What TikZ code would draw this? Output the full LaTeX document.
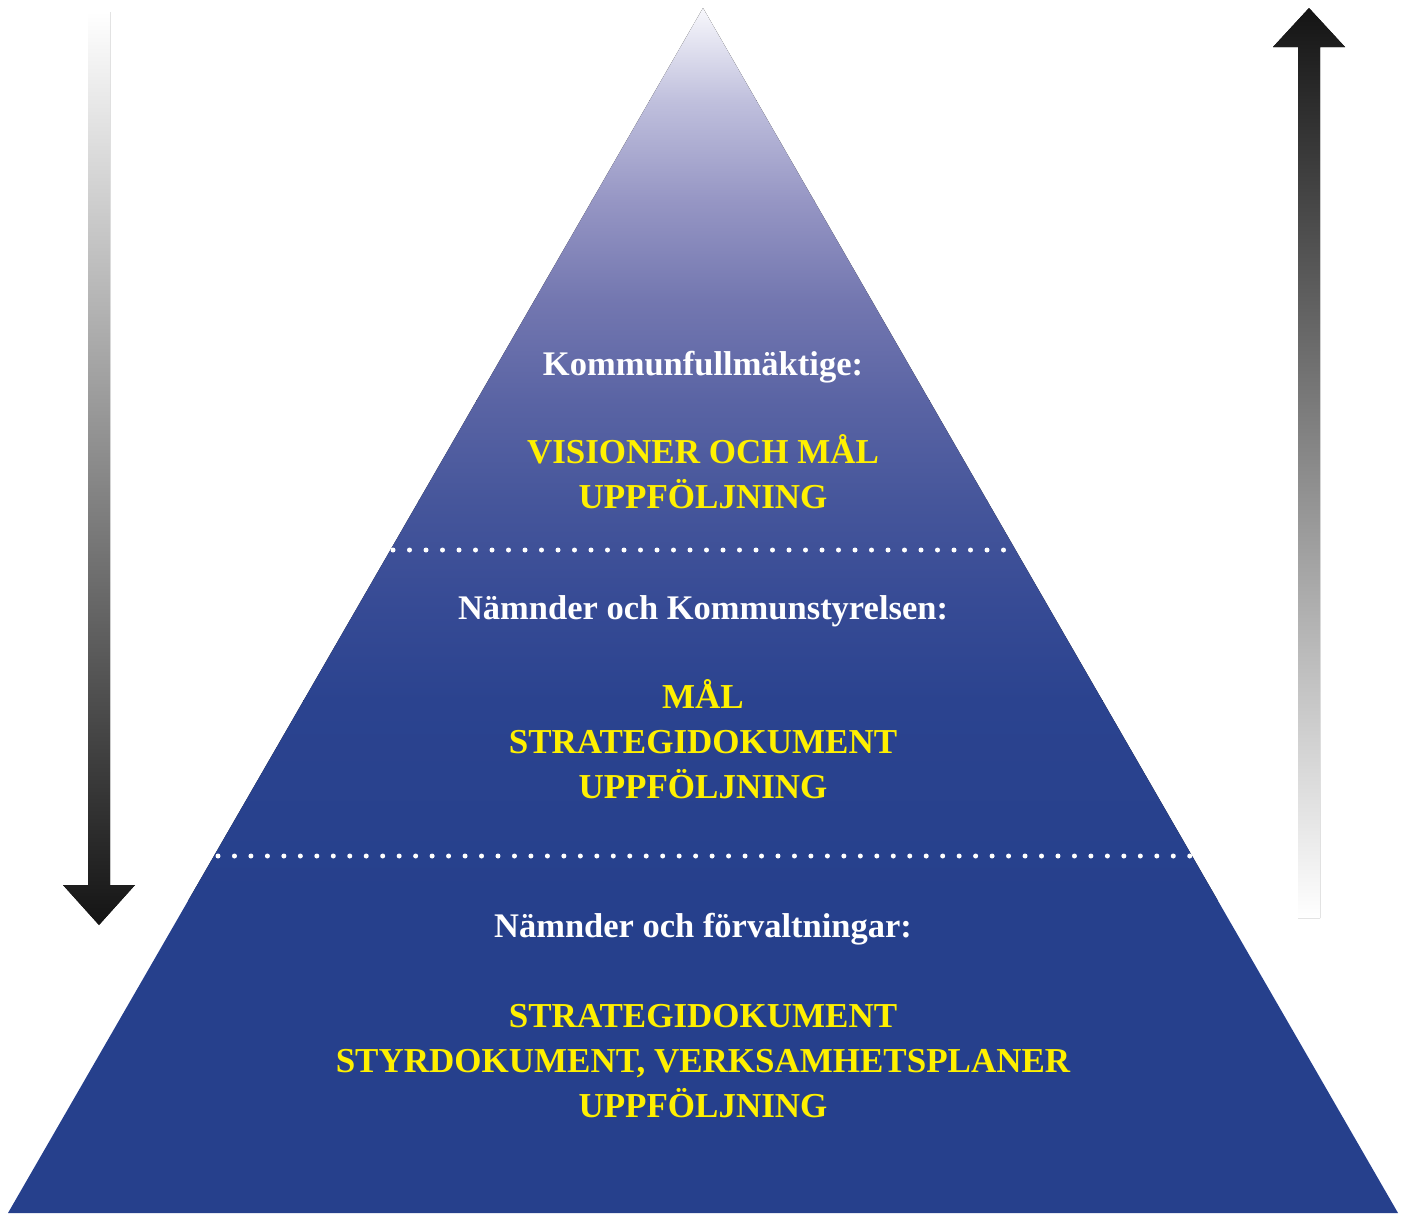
\documentclass[tikz,border=0pt]{standalone}
\usepackage{fontspec}
\setmainfont{Liberation Serif}
\definecolor{pyrblue}{HTML}{26408C}
\definecolor{lblyellow}{HTML}{FFF000}
\definecolor{arrdark}{HTML}{141414}
\begin{document}
\begin{tikzpicture}[x=1pt,y=-1pt,
  whitelbl/.style={text=white,font=\fontsize{34.5}{40}\selectfont\bfseries,anchor=base,inner sep=0pt},
  yellowlbl/.style={text=lblyellow,font=\fontsize{35}{40}\selectfont\bfseries,anchor=base,inner sep=0pt},
  dotline/.style={draw=white,line width=5pt,line cap=round}]
\useasboundingbox (0,0) rectangle (1407,1213);

% pyramid with gradient
\begin{scope}
\clip (703,8) -- (1398,1213) -- (8,1213) -- cycle;
\fill[top color={rgb,255:red,248;green,248;blue,252},bottom color={rgb,255:red,192;green,192;blue,221}] (0,7) rectangle (1407,100.5);
\fill[top color={rgb,255:red,192;green,192;blue,221},bottom color={rgb,255:red,150;green,150;blue,196}] (0,100) rectangle (1407,200.5);
\fill[top color={rgb,255:red,150;green,150;blue,196},bottom color={rgb,255:red,115;green,119;blue,176}] (0,200) rectangle (1407,300.5);
\fill[top color={rgb,255:red,115;green,119;blue,176},bottom color={rgb,255:red,90;green,100;blue,164}] (0,300) rectangle (1407,400.5);
\fill[top color={rgb,255:red,90;green,100;blue,164},bottom color={rgb,255:red,70;green,86;blue,155}] (0,400) rectangle (1407,500.5);
\fill[top color={rgb,255:red,70;green,86;blue,155},bottom color={rgb,255:red,55;green,75;blue,149}] (0,500) rectangle (1407,600.5);
\fill[top color={rgb,255:red,55;green,75;blue,149},bottom color={rgb,255:red,43;green,67;blue,143}] (0,600) rectangle (1407,700.5);
\fill[top color={rgb,255:red,43;green,67;blue,143},bottom color=pyrblue] (0,700) rectangle (1407,900.5);
\fill[pyrblue] (0,900) rectangle (1407,1214);
\end{scope}

% dotted separators
\coordinate (d1a) at (393,550);
\coordinate (d1b) at (1004,550);
\coordinate (d2a) at (218,856);
\coordinate (d2b) at (1191,856);
\draw[dotline,dash pattern=on 0pt off 16.5pt] (d1a) -- (d1b);
\draw[dotline,dash pattern=on 0pt off 16.47pt] (d2a) -- (d2b);

% left arrow (downwards)
\fill[top color=white,bottom color=arrdark]
  (88,12) -- (110,12) -- (110,885) -- (135,885) -- (99,925) -- (63,885) -- (88,885) -- cycle;
% right arrow (upwards)
\fill[top color=arrdark,bottom color=white]
  (1309,8) -- (1345,47) -- (1320,47) -- (1320,918) -- (1298,918) -- (1298,47) -- (1273,47) -- cycle;

% texts
\node[whitelbl] (t1) at (703,375) {Kommunfullmäktige:};
\node[yellowlbl] (t1a) at (703,463) {VISIONER OCH MÅL};
\node[yellowlbl] (t1b) at (703,508) {UPPFÖLJNING};

\node[whitelbl] (t2) at (703,619) {Nämnder och Kommunstyrelsen:};
\node[yellowlbl] (t2a) at (703,708) {MÅL};
\node[yellowlbl] (t2b) at (703,753) {STRATEGIDOKUMENT};
\node[yellowlbl] (t2c) at (703,798) {UPPFÖLJNING};

\node[whitelbl] (t3) at (703,937) {Nämnder och förvaltningar:};
\node[yellowlbl] (t3a) at (703,1027) {STRATEGIDOKUMENT};
\node[yellowlbl] (t3b) at (703,1072) {STYRDOKUMENT, VERKSAMHETSPLANER};
\node[yellowlbl] (t3c) at (703,1117) {UPPFÖLJNING};
\end{tikzpicture}
\end{document}
